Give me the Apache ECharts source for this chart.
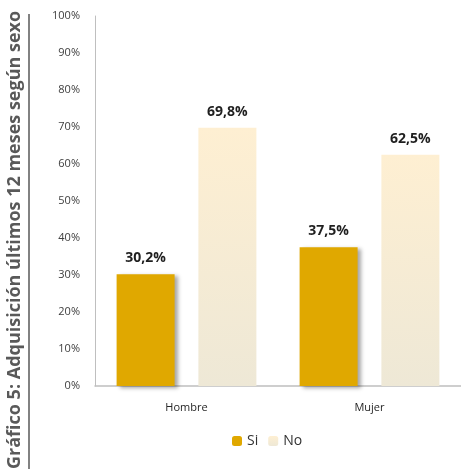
<!DOCTYPE html>
<html><head><meta charset="utf-8">
<script src="https://cdn.jsdelivr.net/npm/echarts@6/dist/echarts.min.js"></script>
<style>html,body{margin:0;padding:0;background:#fff}#c{width:461px;height:469px}</style>
</head><body><div id="c"></div>
<script>
const categories = ['Hombre', 'Mujer'];
const si = [30.2, 37.5];
const no = [69.8, 62.5];
const titleText = 'Gráfico 5: Adquisición últimos 12 meses según sexo';

const chart = echarts.init(document.getElementById('c'), null, {renderer: 'canvas'});
const fmt = p => p.value.toFixed(1).replace('.', ',') + '%';
const labelStyle = {show: true, position: 'top', distance: 9, formatter: fmt,
  fontFamily: 'Open Sans', fontWeight: 'bold', fontSize: 14, color: '#1f1f1f'};
const shadow = {shadowColor: 'rgba(0,0,0,0.35)', shadowBlur: 4, shadowOffsetX: 3, shadowOffsetY: 2};
chart.setOption({
  animation: false,
  grid: {left: 95, top: 16, bottom: 83, right: -2},
  legend: {bottom: 16, left: 227, itemWidth: 10, itemHeight: 10, itemGap: 10,
    textStyle: {fontFamily: 'Open Sans', fontSize: 14, color: '#333'},
    data: ['Si', 'No']},
  graphic: [
    {type: 'text', x: 6, y: 469, rotation: Math.PI / 2,
      style: {text: titleText, font: 'bold 18px "Open Sans"', fill: '#595959', textAlign: 'left', textVerticalAlign: 'top'}},
    {type: 'line', shape: {x1: 29, y1: 14, x2: 29, y2: 469}, style: {stroke: '#595959', lineWidth: 1.5}}
  ],
  xAxis: {type: 'category', data: categories,
    axisLine: {lineStyle: {color: '#bfbfbf', width: 1.5}},
    axisTick: {show: false},
    axisLabel: {fontFamily: 'Open Sans', fontSize: 11, color: '#262626', margin: 16}},
  yAxis: {type: 'value', min: 0, max: 100, interval: 10,
    axisLine: {show: true, lineStyle: {color: '#bfbfbf'}},
    axisTick: {show: false},
    splitLine: {show: false},
    axisLabel: {formatter: '{value}%', fontFamily: 'Open Sans', fontSize: 11, color: '#404040', margin: 15}},
  series: [
    {name: 'Si', type: 'bar', data: si, barWidth: 58, barGap: '41%',
      itemStyle: Object.assign({color: '#E0A800'}, shadow), label: labelStyle},
    {name: 'No', type: 'bar', data: no, barWidth: 58,
      itemStyle: {color: new echarts.graphic.LinearGradient(0, 0, 0, 1, [
        {offset: 0, color: '#FEEFD2'}, {offset: 1, color: '#EEE8D6'}])},
      label: labelStyle}
  ]
});
</script></body></html>
